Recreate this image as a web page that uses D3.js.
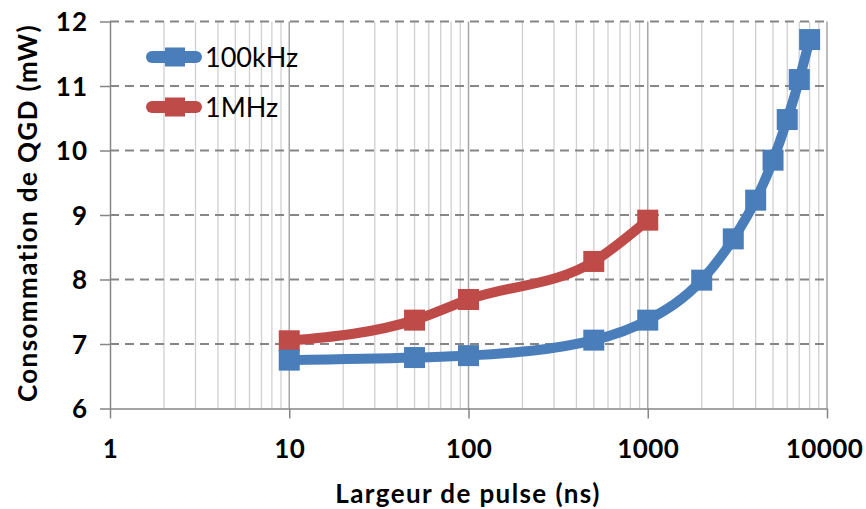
<!DOCTYPE html>
<html><head><meta charset="utf-8">
<script src="https://cdn.jsdelivr.net/npm/d3@7"></script>
<style>body{margin:0;background:#fff}svg{display:block}</style>
</head><body>
<svg id="c" width="866" height="509"></svg>
<script>
const xTicks = [1, 10, 100, 1000, 10000];
const yTicks = [6, 7, 8, 9, 10, 11, 12];
const x100k = [10, 50, 100, 500, 1000, 2000, 3000, 4000, 5000, 6000, 7000, 8000];
const y100k = [6.75, 6.79, 6.82, 7.06, 7.37, 7.99, 8.63, 9.23, 9.85, 10.48, 11.1, 11.72];
const x1M = [10, 50, 100, 500, 1000];
const y1M = [7.05, 7.37, 7.69, 8.28, 8.92];
const seriesNames = ["100kHz", "1MHz"];
const colors = ["#4a7ebb", "#be4b48"];
const xTitle = "Largeur de pulse (ns)";
const yTitle = "Consommation de QGD (mW)";

const svg = d3.select("#c");
const x = d3.scaleLog().domain([1, 10000]).range([110, 827]);
const y = d3.scaleLinear().domain([6, 12]).range([408.5, 21.5]);
const FONT = "Lato, 'Open Sans', sans-serif";

// vertical grid (minor + major)
const minor = [];
for (let d = 1; d < 10000; d *= 10) for (let k = 2; k <= 9; k++) minor.push(d * k);
svg.append("g").selectAll("line").data(minor).join("line")
  .attr("x1", d => x(d)).attr("x2", d => x(d))
  .attr("y1", y(12)).attr("y2", y(6))
  .attr("stroke", "#d0d0d0").attr("stroke-width", 1.3);
svg.append("g").selectAll("line").data(xTicks.slice(1)).join("line")
  .attr("x1", d => x(d)).attr("x2", d => x(d))
  .attr("y1", y(12)).attr("y2", y(6))
  .attr("stroke", "#a6a6a6").attr("stroke-width", 1.5);

// horizontal dashed grid
svg.append("g").selectAll("line").data(yTicks.slice(1)).join("line")
  .attr("x1", x(1)).attr("x2", x(10000))
  .attr("y1", d => y(d)).attr("y2", d => y(d))
  .attr("stroke", "#868686").attr("stroke-width", 2)
  .attr("stroke-dasharray", "9,6");

// y axis
const yAxis = d3.axisLeft(y).tickValues(yTicks).tickFormat(d3.format("d"))
  .tickSize(10).tickSizeOuter(0).tickPadding(12);
const gy = svg.append("g").attr("transform", `translate(${x(1)},0)`).call(yAxis);
gy.select(".domain").attr("stroke", "#868686").attr("stroke-width", 1.5);
gy.selectAll(".tick line").attr("stroke", "#868686").attr("stroke-width", 1.5);
gy.selectAll(".tick text").attr("font-family", FONT).attr("font-weight", "bold")
  .attr("font-size", 26).attr("letter-spacing", 1).attr("fill", "#000").attr("dy", "0.36em");

// x axis
const xAxis = d3.axisBottom(x).tickValues(xTicks).tickFormat(d3.format("d"))
  .tickSize(10).tickSizeOuter(0).tickPadding(21);
const gx = svg.append("g").attr("transform", `translate(0,${y(6)})`).call(xAxis);
gx.select(".domain").attr("stroke", "#868686").attr("stroke-width", 1.5);
gx.selectAll(".tick line").attr("stroke", "#868686").attr("stroke-width", 1.5);
gx.selectAll(".tick text").attr("font-family", FONT).attr("font-weight", "bold")
  .attr("font-size", 26).attr("letter-spacing", 0.4).attr("fill", "#000");
gx.selectAll(".tick text").filter(d => d === 10000).attr("dx", "-3");

// titles
svg.append("text").attr("x", 468).attr("y", 503).attr("text-anchor", "middle")
  .attr("font-family", FONT).attr("font-weight", "bold").attr("font-size", 26)
  .attr("letter-spacing", 1.4).text(xTitle);
svg.append("text").attr("transform", "translate(37,213) rotate(-90)").attr("text-anchor", "middle")
  .attr("font-family", FONT).attr("font-weight", "bold").attr("font-size", 26)
  .attr("letter-spacing", 1.4).text(yTitle);

// series
const series = [
  x100k.map((v, i) => [v, y100k[i]]),
  x1M.map((v, i) => [v, y1M[i]])
];
const line = d3.line().x(d => x(d[0])).y(d => y(d[1])).curve(d3.curveMonotoneX);
const order = [1, 0];
order.forEach(si => {
  const g = svg.append("g");
  g.append("path").datum(series[si]).attr("d", line).attr("fill", "none")
    .attr("stroke", colors[si]).attr("stroke-width", 10)
    .attr("stroke-linejoin", "round").attr("stroke-linecap", "round");
  g.selectAll("rect").data(series[si]).join("rect")
    .attr("x", d => x(d[0]) - 10.5).attr("y", d => y(d[1]) - 10.5)
    .attr("width", 21).attr("height", 21).attr("fill", colors[si]);
});

// legend
const leg = svg.append("g");
seriesNames.forEach((n, i) => {
  const cy = 57 + i * 50;
  leg.append("line").attr("x1", 152).attr("x2", 196).attr("y1", cy).attr("y2", cy)
    .attr("stroke", colors[i]).attr("stroke-width", 12).attr("stroke-linecap", "round");
  leg.append("rect").attr("x", 165).attr("y", cy - 9.5).attr("width", 20).attr("height", 19)
    .attr("fill", colors[i]);
  leg.append("text").attr("x", 205).attr("y", cy + 9.5).attr("font-family", FONT)
    .attr("font-size", 27).attr("fill", "#000").text(n);
});
</script>
</body></html>
